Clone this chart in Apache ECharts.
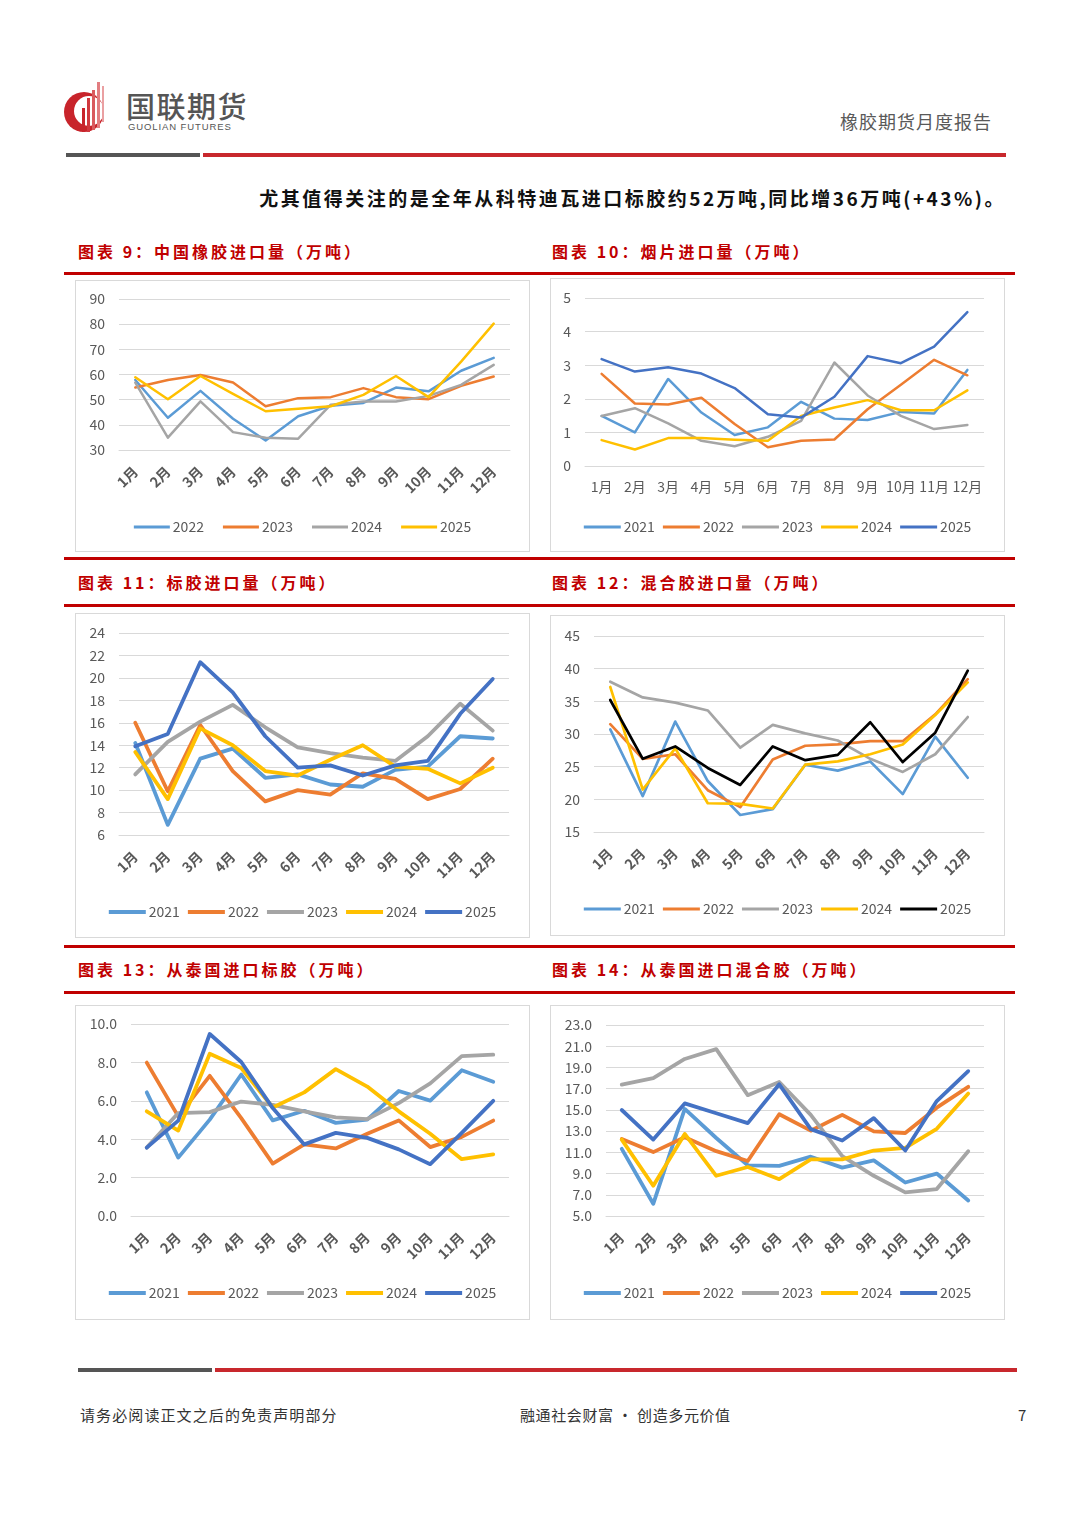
<!DOCTYPE html>
<html><head><meta charset="utf-8">
<script src="https://cdn.jsdelivr.net/npm/echarts@6/dist/echarts.min.js"></script>
<style>
html,body{margin:0;padding:0;background:#fff;}
#page{position:relative;width:1080px;height:1527px;font-family:"Noto Sans CJK SC","Noto Sans",sans-serif;overflow:hidden;}
.abs{position:absolute;line-height:1;}
.box{position:absolute;border:1.5px solid #d9d9d9;box-sizing:border-box;}
.ttl{position:absolute;color:#c00000;font-weight:bold;font-size:16px;letter-spacing:3px;white-space:nowrap;line-height:1;}
.red{position:absolute;left:64px;width:951px;height:3px;background:#c00000;}
</style></head>
<body><div id="page">
<!-- header -->
<svg class="abs" style="left:60px;top:78px" width="56" height="58" viewBox="0 0 56 58">
  <circle cx="24" cy="34" r="20" fill="#c8242b"/>
  <circle cx="29" cy="33" r="15" fill="#ffffff"/>
  <rect x="22" y="30" width="3" height="24" fill="#c8242b"/>
  <rect x="27" y="20" width="3" height="34" fill="#d0383e"/>
  <rect x="32" y="12" width="3" height="40" fill="#d95a5e"/>
  <rect x="37" y="4" width="3" height="46" fill="#e27d80"/>
  <rect x="42" y="8" width="2" height="36" fill="#eaa0a2"/>
</svg>
<div class="abs" style="left:126px;top:91px;font-size:29px;font-weight:500;color:#555;letter-spacing:1.5px;">国联期货</div>
<div class="abs" style="left:128px;top:122px;font-size:9.5px;color:#555;letter-spacing:0.9px;font-family:'Liberation Sans',sans-serif;">GUOLIAN FUTURES</div>
<div class="abs" style="left:840px;top:112px;font-size:18px;color:#595959;letter-spacing:1px;">橡胶期货月度报告</div>
<div class="abs" style="left:66px;top:153px;width:134px;height:4px;background:#555;"></div>
<div class="abs" style="left:203px;top:153px;width:803px;height:4px;background:#c8282d;"></div>
<div class="abs" style="right:74px;top:188px;font-size:19px;font-weight:bold;color:#111;letter-spacing:2.5px;white-space:nowrap;">尤其值得关注的是全年从科特迪瓦进口标胶约52万吨,同比增36万吨(+43%)。</div>

<div class="ttl" style="left:78px;top:243px;">图表 9：中国橡胶进口量（万吨）</div>
<div class="ttl" style="left:552px;top:243px;">图表 10：烟片进口量（万吨）</div>
<div class="red" style="top:272px"></div>
<div class="red" style="top:557px"></div>
<div class="ttl" style="left:78px;top:574px;">图表 11：标胶进口量（万吨）</div>
<div class="ttl" style="left:552px;top:574px;">图表 12：混合胶进口量（万吨）</div>
<div class="red" style="top:604px"></div>
<div class="red" style="top:945px"></div>
<div class="ttl" style="left:78px;top:961px;">图表 13：从泰国进口标胶（万吨）</div>
<div class="ttl" style="left:552px;top:961px;">图表 14：从泰国进口混合胶（万吨）</div>
<div class="red" style="top:991px"></div>

<div class="box" id="c1" style="left:75px;top:280px;width:455px;height:272px;"></div>
<div class="box" id="c2" style="left:550px;top:278px;width:455px;height:274px;"></div>
<div class="box" id="c3" style="left:75px;top:613px;width:455px;height:325px;"></div>
<div class="box" id="c4" style="left:550px;top:615px;width:455px;height:321px;"></div>
<div class="box" id="c5" style="left:75px;top:1005px;width:455px;height:315px;"></div>
<div class="box" id="c6" style="left:550px;top:1005px;width:455px;height:315px;"></div>

<!-- footer -->
<div class="abs" style="left:78px;top:1368px;width:134px;height:4px;background:#555;"></div>
<div class="abs" style="left:215px;top:1368px;width:802px;height:4px;background:#c8282d;"></div>
<div class="abs" style="left:80px;top:1407px;font-size:15px;color:#333;letter-spacing:1.1px;">请务必阅读正文之后的免责声明部分</div>
<div class="abs" style="left:520px;top:1407px;font-size:15px;color:#333;letter-spacing:0.6px;">融通社会财富 • 创造多元价值</div>
<div class="abs" style="left:1018px;top:1407px;font-size:15px;color:#333;">7</div>
</div>
<script>
var months = ['1月','2月','3月','4月','5月','6月','7月','8月','9月','10月','11月','12月'];

// 图表9 中国橡胶进口量
var c1Years = ['2022','2023','2024','2025'];
var c1_2022 = [57.8,42.8,53.5,42.4,33.8,43.4,47.6,48.7,54.8,53.3,61.5,66.6];
var c1_2023 = [54.8,57.8,59.8,56.8,47.4,50.6,51.0,54.6,51.0,50.2,55.5,59.2];
var c1_2024 = [56.8,34.9,49.3,37.1,34.9,34.5,48.0,49.3,49.3,51.5,55.9,63.8];
var c1_2025 = [58.9,50.2,59.4,52.3,45.4,46.4,47.4,51.9,59.4,51.0,65.1,80.2];

// 图表10 烟片进口量
var c2Years = ['2021','2022','2023','2024','2025'];
var c2_2021 = [1.49,1.00,2.59,1.59,0.92,1.15,1.91,1.41,1.37,1.61,1.56,2.86];
var c2_2022 = [2.74,1.86,1.83,2.03,1.25,0.56,0.75,0.79,1.69,2.42,3.16,2.70];
var c2_2023 = [1.49,1.72,1.27,0.75,0.59,0.87,1.34,3.08,2.10,1.49,1.10,1.22];
var c2_2024 = [0.77,0.49,0.83,0.83,0.78,0.75,1.49,1.74,1.96,1.66,1.66,2.25];
var c2_2025 = [3.18,2.81,2.94,2.75,2.32,1.54,1.44,2.06,3.27,3.06,3.55,4.58];

// 图表11 标胶进口量
var c3Years = ['2021','2022','2023','2024','2025'];
var c3_2021 = [14.2,6.9,12.8,13.7,11.1,11.4,10.5,10.3,11.8,12.1,14.8,14.6];
var c3_2022 = [16.0,9.9,15.8,11.7,9.0,10.0,9.6,11.5,11.0,9.2,10.1,12.8];
var c3_2023 = [11.4,14.3,16.1,17.6,15.6,13.8,13.3,12.9,12.6,14.8,17.7,15.3];
var c3_2024 = [13.4,9.2,15.5,14.0,11.7,11.3,12.7,14.0,12.1,11.9,10.6,12.0];
var c3_2025 = [13.9,15.0,21.4,18.7,14.8,12.0,12.2,11.3,12.2,12.6,16.8,19.9];

// 图表12 混合胶进口量
var c4Years = ['2021','2022','2023','2024','2025'];
var c4_2021 = [30.7,20.5,31.9,22.8,17.6,18.5,25.3,24.4,25.8,20.8,29.6,23.3];
var c4_2022 = [31.5,26.2,26.9,21.4,18.8,26.1,28.2,28.4,28.9,28.9,33.0,38.4];
var c4_2023 = [38.0,35.6,34.8,33.6,27.9,31.4,30.1,29.0,26.2,24.2,26.9,32.6];
var c4_2024 = [37.2,21.5,27.8,19.4,19.3,18.6,25.3,25.8,26.9,28.4,32.9,37.9];
var c4_2025 = [35.2,26.2,28.1,24.8,22.2,28.1,26.0,26.8,31.8,25.7,30.2,39.7];

// 图表13 从泰国进口标胶
var c5Years = ['2021','2022','2023','2024','2025'];
var c5_2021 = [6.44,3.04,5.02,7.37,4.98,5.48,4.85,5.02,6.51,6.01,7.59,6.99];
var c5_2022 = [7.99,5.19,7.30,5.10,2.73,3.73,3.52,4.28,4.98,3.59,4.12,4.97];
var c5_2023 = [3.56,5.36,5.41,5.96,5.79,5.45,5.14,5.05,5.88,6.91,8.33,8.40];
var c5_2024 = [5.45,4.45,8.45,7.71,5.65,6.44,7.65,6.74,5.45,4.28,2.96,3.21];
var c5_2025 = [3.56,4.97,9.48,8.02,5.62,3.73,4.33,4.07,3.47,2.70,4.33,6.00];

// 图表14 从泰国进口混合胶
var c6Years = ['2021','2022','2023','2024','2025'];
var c6_2021 = [11.33,6.15,15.09,12.35,9.78,9.72,10.59,9.56,10.24,8.16,9.00,6.46];
var c6_2022 = [12.26,11.02,12.42,11.11,10.18,14.59,13.04,14.53,12.98,12.82,15.21,17.17];
var c6_2023 = [17.38,18.00,19.80,20.73,16.39,17.63,14.53,10.65,8.79,7.23,7.54,11.11];
var c6_2024 = [12.20,7.85,12.73,8.79,9.62,8.47,10.34,10.34,11.17,11.42,13.22,16.54];
var c6_2025 = [14.99,12.20,15.61,14.68,13.75,17.41,13.19,12.11,14.22,11.17,15.83,18.65];

var BLUE='#5B9BD5', ORANGE='#ED7D31', GRAY='#A5A5A5', YELLOW='#FFC000', DBLUE='#4472C4', BLACK='#000000';
var FONT = '"Noto Sans CJK SC","Noto Sans",sans-serif';

function build(id, o){
  var chart = echarts.init(document.getElementById(id), null, {renderer:'canvas'});
  var series = o.names.map(function(n,i){
    return {name:n, type:'line', data:o.data[i], symbol:'none', smooth:false,
      lineStyle:{color:o.colors[i], width:o.lw, cap:'round', join:'round'},
      itemStyle:{color:o.colors[i]}, animation:false};
  });
  chart.setOption({
    animation:false,
    textStyle:{fontFamily:FONT},
    grid:{left:o.grid[0], right:o.grid[1], top:o.grid[2], bottom:o.grid[3], containLabel:false},
    legend:{show:true, top:o.legendTop, left:'center', icon:'rect', itemWidth:o.legendW, itemHeight:o.legendH,
      itemGap:o.legendGap, textStyle:{color:'#595959', fontSize:14, fontFamily:FONT, padding:[0,0,0,-2]},
      data:o.names},
    xAxis:{type:'category', data:months, boundaryGap:true,
      axisLine:{show:true, lineStyle:{color:'#d9d9d9', width:1}}, axisTick:{show:false},
      axisLabel:{color:'#595959', fontSize:14, rotate:o.rotate, margin:o.xMargin, interval:0,
        fontWeight:o.rotate?'bold':'normal', fontFamily:FONT}},
    yAxis:{type:'value', min:o.min, max:o.max, interval:o.interval,
      axisLine:{show:false}, axisTick:{show:false},
      splitLine:{show:true, lineStyle:{color:'#d9d9d9', width:1}},
      axisLabel:{color:'#595959', fontSize:14, margin:o.yMargin, fontFamily:FONT,
        formatter: o.fmt || function(v){return String(v);}}},
    series:series
  });
}

build('c1',{names:c1Years, data:[c1_2022,c1_2023,c1_2024,c1_2025], colors:[BLUE,ORANGE,GRAY,YELLOW],
  lw:2.5, grid:[43,19,18,101], min:30, max:90, interval:10, rotate:45, xMargin:19, yMargin:14,
  legendTop:234, legendW:36, legendH:3, legendGap:19});
build('c2',{names:c2Years, data:[c2_2021,c2_2022,c2_2023,c2_2024,c2_2025], colors:[BLUE,ORANGE,GRAY,YELLOW,DBLUE],
  lw:2.5, grid:[34,20,19,85], min:0, max:5, interval:1, rotate:0, xMargin:14, yMargin:14,
  legendTop:236, legendW:37, legendH:3, legendGap:8});
build('c3',{names:c3Years, data:[c3_2021,c3_2022,c3_2023,c3_2024,c3_2025], colors:[BLUE,ORANGE,GRAY,YELLOW,DBLUE],
  lw:3.8, grid:[43,20,19,102], min:6, max:24, interval:2, rotate:45, xMargin:19, yMargin:14,
  legendTop:286, legendW:37, legendH:4, legendGap:8});
build('c4',{names:c4Years, data:[c4_2021,c4_2022,c4_2023,c4_2024,c4_2025], colors:[BLUE,ORANGE,GRAY,YELLOW,BLACK],
  lw:2.7, grid:[43,20,20,103], min:15, max:45, interval:5, rotate:45, xMargin:19, yMargin:14,
  legendTop:281, legendW:37, legendH:3, legendGap:8});
build('c5',{names:c5Years, data:[c5_2021,c5_2022,c5_2023,c5_2024,c5_2025], colors:[BLUE,ORANGE,GRAY,YELLOW,DBLUE],
  lw:3.8, grid:[55,20,18,103], min:0, max:10, interval:2, rotate:45, xMargin:19, yMargin:14,
  legendTop:275, legendW:37, legendH:4, legendGap:8, fmt:function(v){return v.toFixed(1);}});
build('c6',{names:c6Years, data:[c6_2021,c6_2022,c6_2023,c6_2024,c6_2025], colors:[BLUE,ORANGE,GRAY,YELLOW,DBLUE],
  lw:3.8, grid:[55,20,19,103], min:5, max:23, interval:2, rotate:45, xMargin:19, yMargin:14,
  legendTop:275, legendW:37, legendH:4, legendGap:8, fmt:function(v){return v.toFixed(1);}});
</script>
</body></html>
